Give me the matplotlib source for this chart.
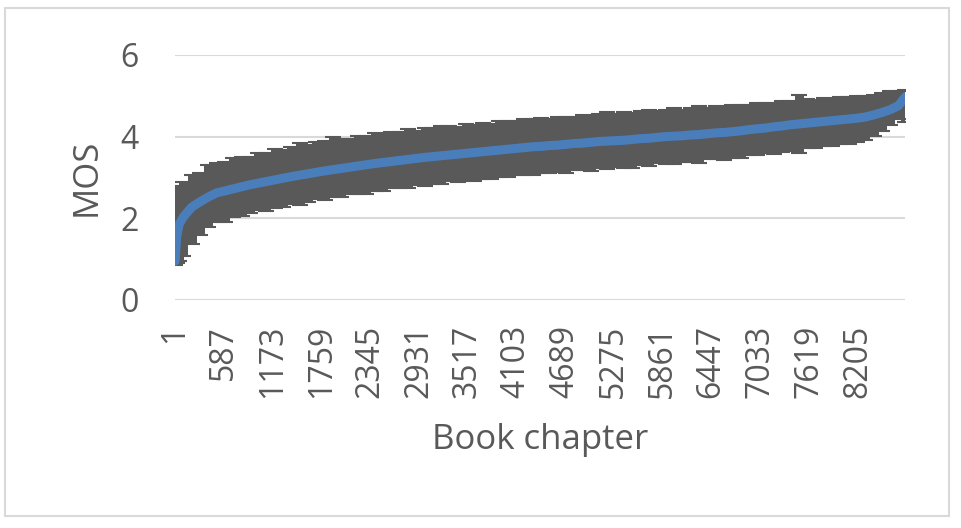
import matplotlib
matplotlib.use("Agg")
import matplotlib.pyplot as plt
from matplotlib.patches import Rectangle

chapters = [1, 20, 50] + list(range(100, 8800, 100)) + [8780]
mos = [0.95, 1.55, 1.85,
       2.03, 2.27, 2.40, 2.52, 2.62, 2.67, 2.72, 2.77, 2.82, 2.86,
       2.90, 2.94, 2.98, 3.02, 3.055, 3.09, 3.125, 3.16, 3.19, 3.22,
       3.25, 3.28, 3.31, 3.34, 3.365, 3.39, 3.415, 3.44, 3.465, 3.49,
       3.51, 3.53, 3.55, 3.57, 3.59, 3.61, 3.63, 3.65, 3.67, 3.69,
       3.71, 3.73, 3.75, 3.76, 3.78, 3.79, 3.81, 3.83, 3.84, 3.86,
       3.88, 3.89, 3.90, 3.91, 3.93, 3.95, 3.96, 3.98, 4.00, 4.01,
       4.02, 4.04, 4.05, 4.07, 4.09, 4.10, 4.12, 4.14, 4.17, 4.19,
       4.21, 4.24, 4.26, 4.29, 4.31, 4.33, 4.35, 4.37, 4.39, 4.41,
       4.43, 4.45, 4.48, 4.53, 4.59, 4.66, 4.76,
       4.97]
err_hi = [1.70, 1.15, 0.95,
          0.85, 0.80, 0.72, 0.78, 0.74, 0.70, 0.76, 0.72, 0.68, 0.74,
          0.70, 0.76, 0.69, 0.73, 0.78, 0.70, 0.74, 0.72, 0.80, 0.73,
          0.70, 0.74, 0.71, 0.75, 0.69, 0.72, 0.70, 0.74, 0.68, 0.71,
          0.69, 0.72, 0.70, 0.66, 0.71, 0.68, 0.70, 0.67, 0.72, 0.68,
          0.66, 0.70, 0.67, 0.69, 0.65, 0.70, 0.67, 0.66, 0.69, 0.65,
          0.68, 0.70, 0.66, 0.69, 0.65, 0.67, 0.70, 0.64, 0.66, 0.68,
          0.63, 0.67, 0.70, 0.64, 0.66, 0.62, 0.65, 0.63, 0.60, 0.64,
          0.61, 0.58, 0.62, 0.57, 0.72, 0.58, 0.55, 0.58, 0.54, 0.56,
          0.53, 0.55, 0.52, 0.50, 0.48, 0.45, 0.36,
          0.16]
err_lo = [0.10, 0.65, 0.90,
          0.95, 0.90, 0.80, 0.74, 0.70, 0.76, 0.68, 0.72, 0.70, 0.66,
          0.73, 0.68, 0.71, 0.67, 0.74, 0.69, 0.66, 0.72, 0.68, 0.70,
          0.66, 0.69, 0.72, 0.67, 0.70, 0.65, 0.68, 0.71, 0.66, 0.69,
          0.67, 0.70, 0.65, 0.68, 0.66, 0.70, 0.66, 0.68, 0.65, 0.69,
          0.66, 0.67, 0.70, 0.65, 0.68, 0.66, 0.69, 0.65, 0.67, 0.70,
          0.66, 0.68, 0.64, 0.67, 0.69, 0.65, 0.67, 0.63, 0.66, 0.68,
          0.64, 0.66, 0.69, 0.63, 0.65, 0.67, 0.64, 0.66, 0.63, 0.65,
          0.62, 0.66, 0.63, 0.65, 0.70, 0.62, 0.64, 0.61, 0.63, 0.60,
          0.62, 0.58, 0.56, 0.52, 0.45, 0.38, 0.34,
          0.62]
n_chapters = 8780
tick_chapters = list(range(1, n_chapters, 586))

plt.rcParams['font.family'] = ['Open Sans', 'DejaVu Sans']
text_color = '#595959'

fig = plt.figure(figsize=(9.62, 5.28), dpi=100)
ax = fig.add_axes([0.182, 0.432, 0.759, 0.464])

ax.errorbar(chapters, mos, yerr=[err_lo, err_hi], fmt='none',
            ecolor='#595959', elinewidth=6.5, capsize=6, capthick=1.5, zorder=2)
ax.plot(chapters, mos, color='#4a7ebb', lw=6.5, solid_capstyle='round', zorder=3)

ax.set_xlim(1, n_chapters)
ax.set_ylim(0, 6)
ax.set_yticks([0, 2, 4, 6])
ax.set_xticks(tick_chapters)
ax.set_xticklabels([str(t) for t in tick_chapters], rotation=90)
ax.grid(axis='y', color='#d9d9d9', lw=1.5)
ax.set_axisbelow(True)
for s in ax.spines.values():
    s.set_visible(False)
ax.tick_params(axis='both', length=0, labelsize=23, colors=text_color)
ax.tick_params(axis='y', pad=26)
ax.tick_params(axis='x', pad=18)

ax.set_xlabel('Book chapter', fontsize=25, color=text_color, labelpad=18)
ax.set_ylabel('MOS', fontsize=25, color=text_color, labelpad=12)

# chart area border
fig.patches.append(Rectangle((5 / 962, 12 / 528), 944 / 962, 508 / 528,
                             transform=fig.transFigure, fill=False,
                             edgecolor='#d9d9d9', lw=1.5))

fig.savefig('out.png', dpi=100)
